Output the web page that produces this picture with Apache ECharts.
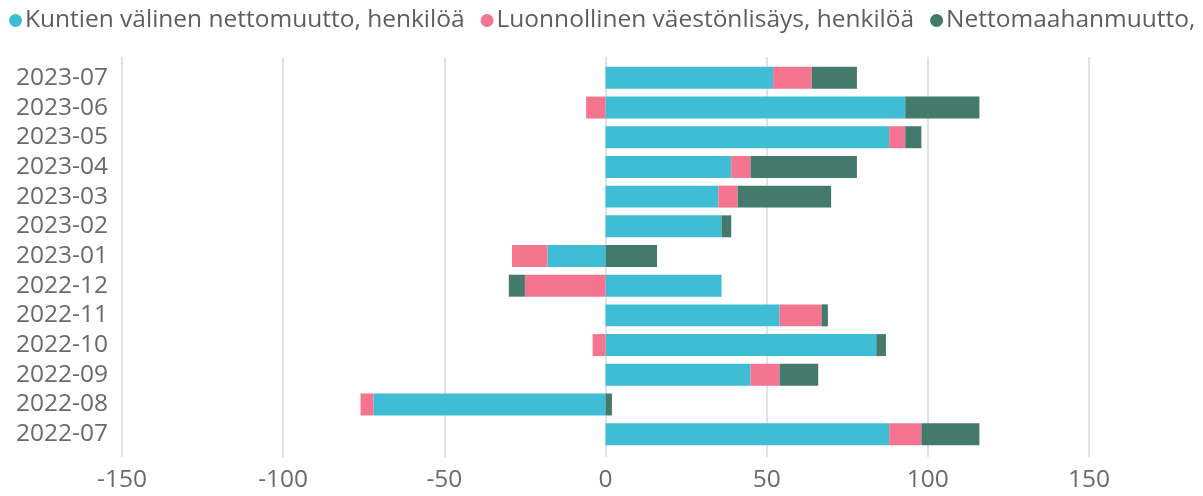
<!DOCTYPE html>
<html>
<head>
<meta charset="utf-8">
<script src="https://cdn.jsdelivr.net/npm/echarts@6/dist/echarts.min.js"></script>
<style>
html,body{margin:0;padding:0;background:#fff;}
#chart{width:1203px;height:496px;}
</style>
</head>
<body>
<div id="chart"></div>
<script>
const categories = ['2022-07','2022-08','2022-09','2022-10','2022-11','2022-12','2023-01','2023-02','2023-03','2023-04','2023-05','2023-06','2023-07'];
const seriesNames = ['Kuntien välinen nettomuutto, henkilöä','Luonnollinen väestönlisäys, henkilöä','Nettomaahanmuutto, henkilöä'];
const kuntienValinen = [88, -72, 45, 84, 54, 36, -18, 36, 35, 39, 88, 93, 52];
const luonnollinen   = [10, -4, 9, -4, 13, -25, -11, 0, 6, 6, 5, -6, 12];
const nettomaahan    = [18, 2, 12, 3, 2, -5, 16, 3, 29, 33, 5, 23, 14];
const xTicks = [-150, -100, -50, 0, 50, 100, 150];
const colors = ['#3FBDD4', '#F5748F', '#447A6C'];

const chart = echarts.init(document.getElementById('chart'), null, {renderer:'canvas'});
const font = '"Open Sans", "Noto Sans", sans-serif';
const FS = 24.5;
const mk = (name, data, i) => ({
  name, type:'bar', stack:'total', data, barCategoryGap:'26%',
  xAxisIndex:0, yAxisIndex:0,
  itemStyle:{color:colors[i]}, emphasis:{disabled:true}
});
chart.setOption({
  animation:false,
  textStyle:{fontFamily:font},
  legend:{
    left:4, top:3, width:3000, icon:'circle', itemWidth:13, itemHeight:13, itemGap:16,
    textStyle:{fontFamily:font, fontSize:FS, color:'#605E5C', padding:[0,0,0,-2]},
    data:seriesNames
  },
  grid:[
    {left:122, right:114, top:63, bottom:47, containLabel:false},
    {left:122, right:114, top:57, bottom:39, containLabel:false}
  ],
  xAxis:[
    {
      type:'value', gridIndex:0, min:xTicks[0], max:xTicks[xTicks.length-1], interval:50,
      axisLine:{show:false}, axisTick:{show:false},
      axisLabel:{show:false}, splitLine:{show:false}
    },
    {
      type:'value', gridIndex:1, min:xTicks[0], max:xTicks[xTicks.length-1], interval:50,
      axisLine:{show:false}, axisTick:{show:false},
      axisLabel:{fontFamily:font, fontSize:FS, color:'#6a6a6a', margin:11},
      splitLine:{show:true, lineStyle:{color:'#E2E2E2', width:2}}
    }
  ],
  yAxis:[
    {
      type:'category', gridIndex:0, data:categories,
      axisLine:{show:false}, axisTick:{show:false},
      axisLabel:{fontFamily:font, fontSize:FS, color:'#6a6a6a', margin:14, interval:0}
    },
    {
      type:'category', gridIndex:1, data:categories, show:false
    }
  ],
  series:[mk(seriesNames[0], kuntienValinen, 0), mk(seriesNames[1], luonnollinen, 1), mk(seriesNames[2], nettomaahan, 2)]
});
</script>
</body>
</html>
